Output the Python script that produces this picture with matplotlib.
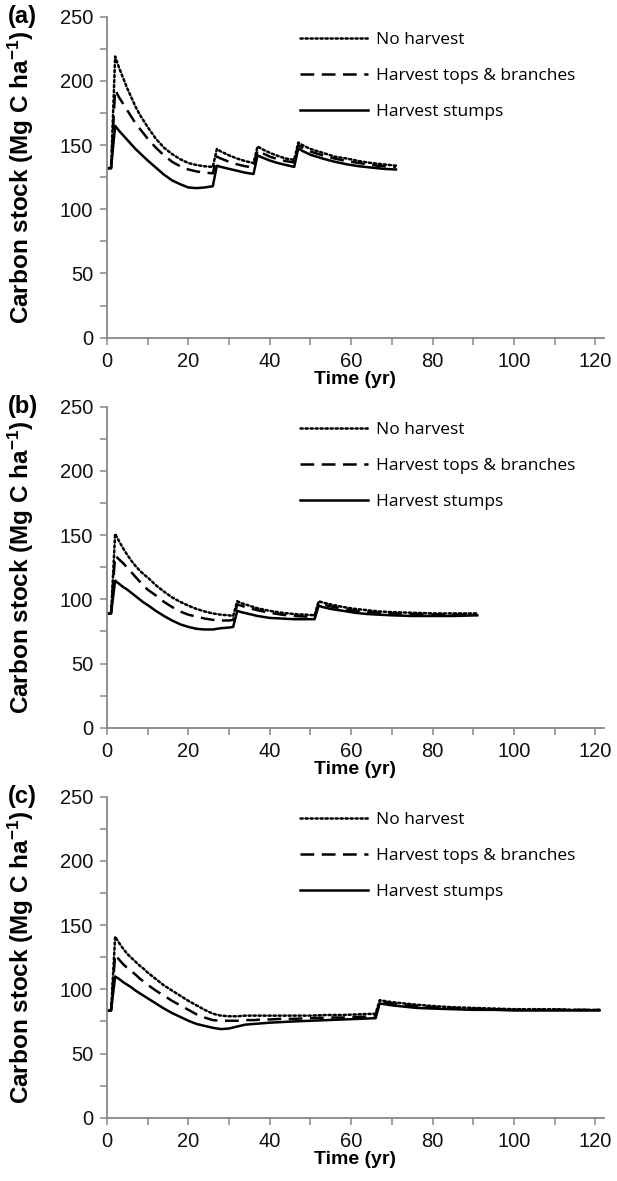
import numpy as np
import matplotlib
matplotlib.use("Agg")
import matplotlib.pyplot as plt
from matplotlib.ticker import MultipleLocator

plt.rcParams['font.family'] = ['Liberation Sans', 'DejaVu Sans']
plt.rcParams['mathtext.fontset'] = 'custom'
plt.rcParams['mathtext.rm'] = 'Liberation Sans:bold'
plt.rcParams['mathtext.default'] = 'rm'

# series labels
labels = ['No harvest', 'Harvest tops & branches', 'Harvest stumps']

# panel (a)
years_a = [0, 1, 2, 3, 4, 5, 6, 7, 8, 9, 10,
           12, 14, 16, 18, 20, 22, 24, 26,
           27, 28, 30, 32, 34, 36,
           37, 38, 40, 42, 44, 46,
           47, 48, 50, 53, 56, 59, 62, 65, 68, 71]
nh_a = [132, 132, 219, 210, 202, 194, 187, 180, 174, 169, 164,
        155, 148, 143, 139, 136, 134.5, 133.5, 133,
        147, 145, 142, 139.5, 137.5, 136,
        149, 147, 144, 141.5, 139.5, 138.5,
        152, 150, 147, 144, 141, 139.5, 137.5, 136, 135, 134]
tb_a = [132, 132, 193, 187, 182, 177, 172, 167, 163, 159, 155,
        148, 142, 137, 133.5, 131, 129.5, 128.5, 128,
        141, 139.5, 137, 135, 133.5, 132.5,
        146, 144, 141, 139, 137.5, 136.5,
        150, 148, 145, 142, 139.5, 137.5, 136, 134.5, 133.5, 133]
st_a = [132, 132, 165, 161, 157.5, 154, 150.5, 147, 144, 141, 138,
        132.5, 127, 122.5, 119.5, 117, 116.5, 117, 118,
        134, 133, 131.5, 130, 128.5, 127.5,
        142, 140.5, 138, 136, 134.5, 133,
        147.5, 145.5, 142.5, 139.5, 137, 135, 133.5, 132.5, 131.5, 131]

# panel (b)
years_b = [0, 1, 2, 3, 4, 5, 6, 7, 8, 9, 10,
           12, 14, 16, 18, 20, 22, 24, 26, 28, 30, 31,
           32, 33, 35, 37, 40, 43, 46, 49, 51,
           52, 53, 55, 58, 61, 64, 67, 70, 75, 80, 85, 91]
nh_b = [89, 89, 151, 145, 139.5, 134.5, 130, 126, 122.5, 119.5, 117,
        111, 106, 101.5, 98, 95, 92.5, 90.5, 89, 88, 87.5, 87,
        98.5, 97, 95, 93, 91, 89.5, 88.5, 88, 87.5,
        98.5, 97.5, 96, 94, 92.5, 91.5, 90.5, 90, 89.5, 89, 89, 89]
tb_b = [89, 89, 134, 131, 128, 124.5, 121, 117.5, 114, 110.5, 107.5,
        103, 98, 94, 90.5, 88, 86.5, 85, 84, 83.5, 83.5, 84,
        96, 95, 93, 91.5, 89.5, 88, 87, 86.5, 86,
        97, 96, 94.5, 92.5, 91, 90, 89.5, 89, 88.5, 88, 88, 88]
st_b = [89, 89, 114.5, 112, 109.5, 107.5, 105, 102.5, 100, 97.5, 95.5,
        91, 87, 83.5, 80.5, 78.5, 77, 76.5, 76.5, 77.5, 78, 78.5,
        91, 90, 88.5, 87, 85.5, 85, 84.5, 84.5, 84.5,
        95, 94, 92.5, 91, 89.5, 88.5, 88, 87.5, 87, 87, 87, 87.5]

# panel (c)
years_c = [0, 1, 2, 3, 4, 5, 6, 7, 8, 9, 10,
           12, 14, 16, 18, 20, 22, 24, 26, 28, 30, 32, 34, 36, 38, 40,
           43, 46, 50, 54, 58, 62, 66,
           67, 68, 70, 73, 76, 80, 85, 90, 95, 100, 105, 110, 115, 121]
nh_c = [83.5, 83.5, 141, 136, 131.5, 127.5, 124.5, 121.5, 118.5, 116, 113,
        108, 103, 99, 95, 91, 87.5, 84, 81, 79.5, 79, 79, 79.5, 79.5, 79.5, 79.5,
        79.5, 79.5, 79.5, 80, 80, 80.5, 81,
        91.5, 91, 90, 89, 88, 87, 86, 85.5, 85, 84.5, 84.5, 84.5, 84, 84]
tb_c = [83.5, 83.5, 127, 123, 119.5, 116.5, 114, 111.5, 108.5, 106, 103.5,
        99, 95, 91, 87.5, 84, 80.5, 78, 76, 75.5, 75.5, 75.5, 76, 76, 76.5, 76.5,
        77, 77, 77.5, 78, 78, 78.5, 79,
        90.5, 90, 89, 88, 87, 86, 85.5, 85, 84.5, 84, 84, 84, 84, 84]
st_c = [83.5, 83.5, 110, 108, 105.5, 103.5, 101.5, 99, 97, 95, 93,
        89, 85, 81.5, 78.5, 75.5, 73, 71.5, 70, 69, 69.5, 71, 72.5, 73, 73.5, 74,
        74.5, 75, 75.5, 76, 76.5, 77, 77.5,
        89, 88.5, 87.5, 86.5, 85.5, 85, 84.5, 84, 84, 83.5, 83.5, 83.5, 83.5, 83.5]

panels = [('(a)', years_a, nh_a, tb_a, st_a),
          ('(b)', years_b, nh_b, tb_b, st_b),
          ('(c)', years_c, nh_c, tb_c, st_c)]

W, H = 617, 1181
fig = plt.figure(figsize=(W / 100, H / 100), dpi=100)

gray = '#878787'
styles = [dict(ls=(0, (0.9, 1.1)), lw=1.8, dash_capstyle='round'),
          dict(ls=(0, (5.5, 3)), lw=1.8),
          dict(ls='-', lw=1.8)]

left = 107 / W
width = (603.5 - 107) / W
height = 321 / H
zero_rows = [337.7, 727.7, 1117.7]

for (tag, yrs, nh, tb, st), zrow in zip(panels, zero_rows):
    ax = fig.add_axes([left, 1 - zrow / H, width, height])
    for vals, lab, sty in zip([nh, tb, st], labels, styles):
        ax.plot(yrs, vals, color='black', label=lab, **sty)
    ax.set_xlim(0, 122)
    ax.set_ylim(0, 250)
    ax.xaxis.set_major_locator(MultipleLocator(20))
    ax.xaxis.set_minor_locator(MultipleLocator(10))
    ax.yaxis.set_major_locator(MultipleLocator(50))
    ax.yaxis.set_minor_locator(MultipleLocator(25))
    for s in ['top', 'right']:
        ax.spines[s].set_visible(False)
    for s in ['left', 'bottom']:
        ax.spines[s].set_color(gray)
        ax.spines[s].set_linewidth(1.3)
    ax.tick_params(which='both', direction='out', color=gray, width=1.1,
                   length=5, labelsize=14.5, labelcolor='#111111', pad=5)
    ax.set_xlabel('Time (yr)', fontsize=14, fontweight='bold', labelpad=0)
    ax.set_ylabel('Carbon stock (Mg C ha$^{-1}$)', fontsize=17.5,
                  fontweight='bold')
    ax.yaxis.set_label_coords(-0.143, 0.5)
    ax.legend(loc='upper left', bbox_to_anchor=(0.389, 0.953), frameon=False,
              prop={'family': 'Open Sans', 'size': 12.5}, handlelength=3.9,
              handletextpad=0.45, labelspacing=1.15, borderpad=0,
              borderaxespad=0)
    fig.text(8 / W, 1 - (zrow - 321) / H, tag, fontsize=17,
             fontweight='bold', va='center', ha='left')

fig.savefig('out.png', dpi=100)
